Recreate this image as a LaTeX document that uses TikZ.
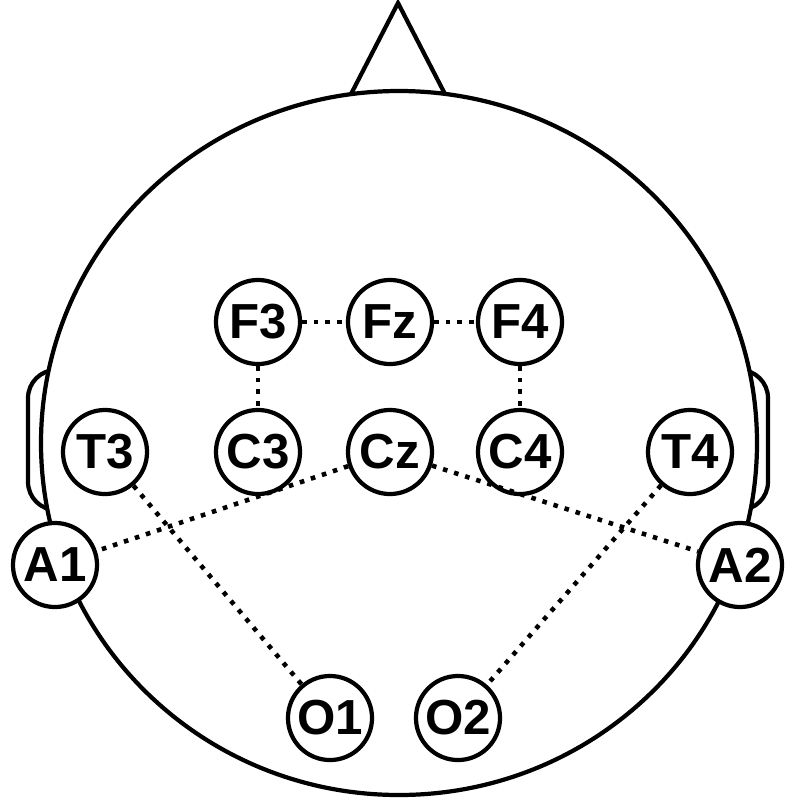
\documentclass[tikz,border=0pt]{standalone}
\usepackage{fontspec}
\setmainfont{Liberation Sans}
\usetikzlibrary{positioning}
\tikzset{
  electrode/.style={circle, draw, fill=white, line width=1.2pt, minimum size=0.84cm, inner sep=0pt, font=\fontsize{14}{16}\selectfont\bfseries},
  link/.style={dotted, line width=1.3pt}
}
\begin{document}
\begin{tikzpicture}[x=0.01cm, y=-0.01cm, line width=1.2pt]
    \useasboundingbox (0,0) rectangle (797,800);
    % Ears
    \draw[rounded corners=8pt] (50,370) -- (28,370) -- (28,510) -- (50,510);
    \draw[rounded corners=8pt] (748,370) -- (768,370) -- (768,510) -- (748,510);
    % Head and nose
    \draw[fill=white] (350,96) -- (398,3) -- (446,96);
    \draw[fill=white] (399,443) ellipse[x radius=358, y radius=352];

    % Electrodes
    \node[electrode] (F3) at (258,322) {F3};
    \node[electrode] (Fz) at (390,322) {Fz};
    \node[electrode] (F4) at (520,322) {F4};
    \node[electrode] (T3) at (105,452) {T3};
    \node[electrode] (C3) at (258,452) {C3};
    \node[electrode] (Cz) at (390,452) {Cz};
    \node[electrode] (C4) at (520,452) {C4};
    \node[electrode] (T4) at (690,452) {T4};
    \node[electrode] (A1) at (55,565) {A1};
    \node[electrode] (A2) at (740,565) {A2};
    \node[electrode] (O1) at (330,718) {O1};
    \node[electrode] (O2) at (458,718) {O2};

    % Links
    \draw[link] (F3) -- (Fz);
    \draw[link] (Fz) -- (F4);
    \draw[link] (F3) -- (C3);
    \draw[link] (F4) -- (C4);
    \draw[link] (T3) -- (O1);
    \draw[link] (T4) -- (O2);
    \draw[link] (Cz) -- (A1);
    \draw[link] (Cz) -- (A2);
\end{tikzpicture}
\end{document}
